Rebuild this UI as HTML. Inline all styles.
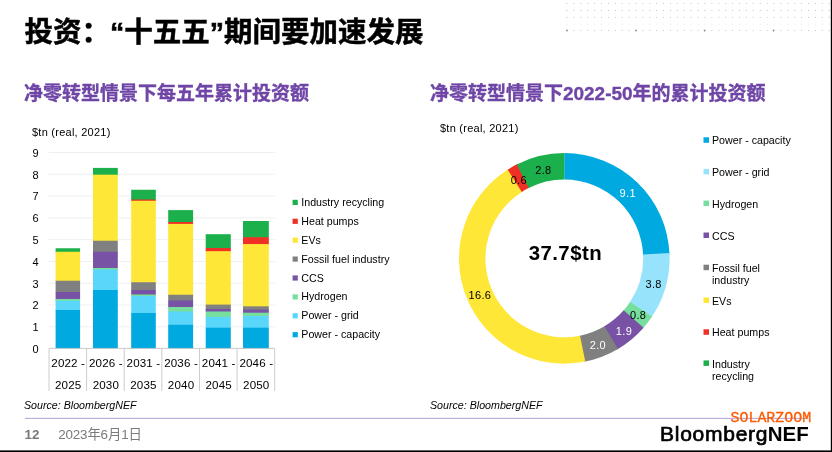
<!DOCTYPE html>
<html lang="zh"><head><meta charset="utf-8"><title>投资</title>
<style>
html,body{margin:0;padding:0;background:#fff;}
body{width:832px;height:452px;overflow:hidden;position:relative;font-family:"Liberation Sans", "Noto Sans CJK SC", sans-serif;}
svg{position:absolute;left:0;top:0;}
text{font-family:"Liberation Sans", "Noto Sans CJK SC", sans-serif;}
.t{font-size:11px;fill:#000;letter-spacing:0.25px;}
.l{font-size:10.67px;fill:#000;}
.w{fill:#fff;}
</style></head><body>
<svg width="832" height="452" viewBox="0 0 832 452">

<text x="24.5" y="42" font-size="28" font-weight="700" fill="#000" stroke="#000" stroke-width="0.5" textLength="399" lengthAdjust="spacingAndGlyphs">投资：“十五五”期间要加速发展</text>
<text x="24.1" y="100.2" font-size="19" font-weight="700" fill="#6F46A6" stroke="#6F46A6" stroke-width="0.35">净零转型情景下每五年累计投资额</text>
<text x="429.9" y="100.2" font-size="19" font-weight="700" fill="#6F46A6" stroke="#6F46A6" stroke-width="0.35">净零转型情景下2022-50年的累计投资额</text>
<text class="t" x="32" y="136.1">$tn (real, 2021)</text>
<line x1="49.0" x2="274.7" y1="326.81" y2="326.81" stroke="#dedede" stroke-width="0.6" stroke-dasharray="2.2,0.6"/>
<line x1="49.0" x2="274.7" y1="305.02" y2="305.02" stroke="#dedede" stroke-width="0.6" stroke-dasharray="2.2,0.6"/>
<line x1="49.0" x2="274.7" y1="283.23" y2="283.23" stroke="#dedede" stroke-width="0.6" stroke-dasharray="2.2,0.6"/>
<line x1="49.0" x2="274.7" y1="261.44" y2="261.44" stroke="#dedede" stroke-width="0.6" stroke-dasharray="2.2,0.6"/>
<line x1="49.0" x2="274.7" y1="239.65" y2="239.65" stroke="#dedede" stroke-width="0.6" stroke-dasharray="2.2,0.6"/>
<line x1="49.0" x2="274.7" y1="217.86" y2="217.86" stroke="#dedede" stroke-width="0.6" stroke-dasharray="2.2,0.6"/>
<line x1="49.0" x2="274.7" y1="196.07" y2="196.07" stroke="#dedede" stroke-width="0.6" stroke-dasharray="2.2,0.6"/>
<line x1="49.0" x2="274.7" y1="174.28" y2="174.28" stroke="#dedede" stroke-width="0.6" stroke-dasharray="2.2,0.6"/>
<line x1="49.0" x2="274.7" y1="152.49" y2="152.49" stroke="#dedede" stroke-width="0.6" stroke-dasharray="2.2,0.6"/>
<text class="t" x="32.5" y="352.90">0</text>
<text class="t" x="32.5" y="331.11">1</text>
<text class="t" x="32.5" y="309.32">2</text>
<text class="t" x="32.5" y="287.53">3</text>
<text class="t" x="32.5" y="265.74">4</text>
<text class="t" x="32.5" y="243.95">5</text>
<text class="t" x="32.5" y="222.16">6</text>
<text class="t" x="32.5" y="200.37">7</text>
<text class="t" x="32.5" y="178.58">8</text>
<text class="t" x="32.5" y="156.79">9</text>
<rect x="55.60" y="248.25" width="24.50" height="4.10" fill="#1CB04C"/>
<rect x="55.60" y="251.75" width="24.50" height="29.60" fill="#FFE737"/>
<rect x="55.60" y="280.75" width="24.50" height="11.85" fill="#808080"/>
<rect x="55.60" y="292.00" width="24.50" height="7.60" fill="#7852A4"/>
<rect x="55.60" y="299.00" width="24.50" height="2.35" fill="#77DF9E"/>
<rect x="55.60" y="300.75" width="24.50" height="9.85" fill="#5BD6FB"/>
<rect x="55.60" y="310.00" width="24.50" height="38.40" fill="#00A9E0"/>
<rect x="93.00" y="167.90" width="24.80" height="7.40" fill="#1CB04C"/>
<rect x="93.00" y="174.70" width="24.80" height="66.65" fill="#FFE737"/>
<rect x="93.00" y="240.75" width="24.80" height="11.60" fill="#808080"/>
<rect x="93.00" y="251.75" width="24.80" height="16.85" fill="#7852A4"/>
<rect x="93.00" y="268.00" width="24.80" height="2.10" fill="#77DF9E"/>
<rect x="93.00" y="269.50" width="24.80" height="21.10" fill="#5BD6FB"/>
<rect x="93.00" y="290.00" width="24.80" height="58.40" fill="#00A9E0"/>
<rect x="131.20" y="189.75" width="24.60" height="10.35" fill="#1CB04C"/>
<rect x="131.20" y="199.50" width="24.60" height="1.85" fill="#EE3124"/>
<rect x="131.20" y="200.75" width="24.60" height="82.10" fill="#FFE737"/>
<rect x="131.20" y="282.25" width="24.60" height="8.35" fill="#808080"/>
<rect x="131.20" y="290.00" width="24.60" height="5.10" fill="#7852A4"/>
<rect x="131.20" y="294.50" width="24.60" height="2.10" fill="#77DF9E"/>
<rect x="131.20" y="296.00" width="24.60" height="17.60" fill="#5BD6FB"/>
<rect x="131.20" y="313.00" width="24.60" height="35.40" fill="#00A9E0"/>
<rect x="168.20" y="210.10" width="24.90" height="12.50" fill="#1CB04C"/>
<rect x="168.20" y="222.00" width="24.90" height="2.50" fill="#EE3124"/>
<rect x="168.20" y="223.90" width="24.90" height="71.45" fill="#FFE737"/>
<rect x="168.20" y="294.75" width="24.90" height="6.35" fill="#808080"/>
<rect x="168.20" y="300.50" width="24.90" height="7.10" fill="#7852A4"/>
<rect x="168.20" y="307.00" width="24.90" height="5.10" fill="#77DF9E"/>
<rect x="168.20" y="311.50" width="24.90" height="13.85" fill="#5BD6FB"/>
<rect x="168.20" y="324.75" width="24.90" height="23.65" fill="#00A9E0"/>
<rect x="205.70" y="234.20" width="25.10" height="14.40" fill="#1CB04C"/>
<rect x="205.70" y="248.00" width="25.10" height="3.80" fill="#EE3124"/>
<rect x="205.70" y="251.20" width="25.10" height="54.00" fill="#FFE737"/>
<rect x="205.70" y="304.60" width="25.10" height="5.00" fill="#808080"/>
<rect x="205.70" y="309.00" width="25.10" height="3.10" fill="#7852A4"/>
<rect x="205.70" y="311.50" width="25.10" height="6.00" fill="#77DF9E"/>
<rect x="205.70" y="316.90" width="25.10" height="11.40" fill="#5BD6FB"/>
<rect x="205.70" y="327.70" width="25.10" height="20.70" fill="#00A9E0"/>
<rect x="243.00" y="221.00" width="25.80" height="16.80" fill="#1CB04C"/>
<rect x="243.00" y="237.20" width="25.80" height="7.50" fill="#EE3124"/>
<rect x="243.00" y="244.10" width="25.80" height="62.80" fill="#FFE737"/>
<rect x="243.00" y="306.30" width="25.80" height="4.00" fill="#808080"/>
<rect x="243.00" y="309.70" width="25.80" height="3.60" fill="#7852A4"/>
<rect x="243.00" y="312.70" width="25.80" height="3.80" fill="#77DF9E"/>
<rect x="243.00" y="315.90" width="25.80" height="12.40" fill="#5BD6FB"/>
<rect x="243.00" y="327.70" width="25.80" height="20.70" fill="#00A9E0"/>
<line x1="49.0" x2="274.7" y1="348.4" y2="348.4" stroke="#bfbfbf" stroke-width="0.8"/>
<line x1="49.00" x2="49.00" y1="348.4" y2="391.0" stroke="#bfbfbf" stroke-width="0.8"/>
<line x1="86.62" x2="86.62" y1="348.4" y2="391.0" stroke="#bfbfbf" stroke-width="0.8"/>
<line x1="124.23" x2="124.23" y1="348.4" y2="391.0" stroke="#bfbfbf" stroke-width="0.8"/>
<line x1="161.85" x2="161.85" y1="348.4" y2="391.0" stroke="#bfbfbf" stroke-width="0.8"/>
<line x1="199.47" x2="199.47" y1="348.4" y2="391.0" stroke="#bfbfbf" stroke-width="0.8"/>
<line x1="237.08" x2="237.08" y1="348.4" y2="391.0" stroke="#bfbfbf" stroke-width="0.8"/>
<line x1="274.70" x2="274.70" y1="348.4" y2="391.0" stroke="#bfbfbf" stroke-width="0.8"/>
<text class="t" style="font-size:11.6px;letter-spacing:0.15px" text-anchor="middle" x="68.21" y="366.7">2022 -</text>
<text class="t" style="font-size:11.6px;letter-spacing:0.15px" text-anchor="middle" x="68.21" y="388.5">2025</text>
<text class="t" style="font-size:11.6px;letter-spacing:0.15px" text-anchor="middle" x="105.83" y="366.7">2026 -</text>
<text class="t" style="font-size:11.6px;letter-spacing:0.15px" text-anchor="middle" x="105.83" y="388.5">2030</text>
<text class="t" style="font-size:11.6px;letter-spacing:0.15px" text-anchor="middle" x="143.44" y="366.7">2031 -</text>
<text class="t" style="font-size:11.6px;letter-spacing:0.15px" text-anchor="middle" x="143.44" y="388.5">2035</text>
<text class="t" style="font-size:11.6px;letter-spacing:0.15px" text-anchor="middle" x="181.06" y="366.7">2036 -</text>
<text class="t" style="font-size:11.6px;letter-spacing:0.15px" text-anchor="middle" x="181.06" y="388.5">2040</text>
<text class="t" style="font-size:11.6px;letter-spacing:0.15px" text-anchor="middle" x="218.68" y="366.7">2041 -</text>
<text class="t" style="font-size:11.6px;letter-spacing:0.15px" text-anchor="middle" x="218.68" y="388.5">2045</text>
<text class="t" style="font-size:11.6px;letter-spacing:0.15px" text-anchor="middle" x="256.29" y="366.7">2046 -</text>
<text class="t" style="font-size:11.6px;letter-spacing:0.15px" text-anchor="middle" x="256.29" y="388.5">2050</text>
<rect x="292.6" y="199.80" width="5.2" height="5.2" fill="#1CB04C"/>
<text class="l" x="301.3" y="205.90">Industry recycling</text>
<rect x="292.6" y="218.70" width="5.2" height="5.2" fill="#EE3124"/>
<text class="l" x="301.3" y="224.80">Heat pumps</text>
<rect x="292.6" y="237.60" width="5.2" height="5.2" fill="#FFE737"/>
<text class="l" x="301.3" y="243.70">EVs</text>
<rect x="292.6" y="256.50" width="5.2" height="5.2" fill="#808080"/>
<text class="l" x="301.3" y="262.60">Fossil fuel industry</text>
<rect x="292.6" y="275.40" width="5.2" height="5.2" fill="#7852A4"/>
<text class="l" x="301.3" y="281.50">CCS</text>
<rect x="292.6" y="294.30" width="5.2" height="5.2" fill="#77DF9E"/>
<text class="l" x="301.3" y="300.40">Hydrogen</text>
<rect x="292.6" y="313.20" width="5.2" height="5.2" fill="#5BD6FB"/>
<text class="l" x="301.3" y="319.30">Power - grid</text>
<rect x="292.6" y="332.10" width="5.2" height="5.2" fill="#00A9E0"/>
<text class="l" x="301.3" y="338.20">Power - capacity</text>
<text x="24" y="408.5" font-size="10.67" font-style="italic" fill="#000">Source: BloombergNEF</text>
<text class="t" x="440" y="132">$tn (real, 2021)</text>
<path d="M564.30 153.10 A105.30 105.30 0 0 1 669.52 254.39 L643.14 255.39 A78.90 78.90 0 0 0 564.30 179.50 Z" fill="#00A9E0"/>
<path d="M669.47 253.12 A105.30 105.30 0 0 1 651.39 317.58 L629.56 302.75 A78.90 78.90 0 0 0 643.10 254.45 Z" fill="#98E3FC"/>
<path d="M652.10 316.54 A105.30 105.30 0 0 1 642.73 328.66 L623.07 311.05 A78.90 78.90 0 0 0 630.09 301.96 Z" fill="#77DF9E"/>
<path d="M643.57 327.72 A105.30 105.30 0 0 1 616.87 349.64 L603.69 326.76 A78.90 78.90 0 0 0 623.69 310.34 Z" fill="#7852A4"/>
<path d="M617.96 349.00 A105.30 105.30 0 0 1 584.03 361.83 L579.09 335.90 A78.90 78.90 0 0 0 604.51 326.29 Z" fill="#808080"/>
<path d="M585.27 361.59 A105.30 105.30 0 0 1 508.71 168.97 L522.65 191.39 A78.90 78.90 0 0 0 580.02 335.72 Z" fill="#FFE737"/>
<path d="M507.64 169.64 A105.30 105.30 0 0 1 517.94 163.85 L529.56 187.56 A78.90 78.90 0 0 0 521.85 191.90 Z" fill="#EE3124"/>
<path d="M516.81 164.42 A105.30 105.30 0 0 1 564.30 153.10 L564.30 179.50 A78.90 78.90 0 0 0 528.72 187.98 Z" fill="#1CB04C"/>
<text class="t w" style="letter-spacing:0.35px" text-anchor="middle" x="627.75" y="196.70">9.1</text>
<text class="t" style="letter-spacing:0.35px" text-anchor="middle" x="653.65" y="287.90">3.8</text>
<text class="t" style="letter-spacing:0.35px" text-anchor="middle" x="638.10" y="319.40">0.8</text>
<text class="t w" style="letter-spacing:0.35px" text-anchor="middle" x="623.95" y="334.80">1.9</text>
<text class="t w" style="letter-spacing:0.35px" text-anchor="middle" x="597.85" y="349.10">2.0</text>
<text class="t" style="letter-spacing:0.35px" text-anchor="middle" x="479.90" y="298.60">16.6</text>
<text class="t" style="letter-spacing:0.35px" text-anchor="middle" x="518.80" y="183.80">0.6</text>
<text class="t" style="letter-spacing:0.35px" text-anchor="middle" x="543.40" y="173.90">2.8</text>
<text x="565.4" y="259.8" text-anchor="middle" font-size="20.4" font-weight="700" letter-spacing="0.45" fill="#000">37.7$tn</text>
<rect x="703.5" y="137.30" width="5.5" height="5.5" fill="#00A9E0"/>
<text class="l" x="712" y="144.40">Power - capacity</text>
<rect x="703.5" y="168.90" width="5.5" height="5.5" fill="#98E3FC"/>
<text class="l" x="712" y="176.00">Power - grid</text>
<rect x="703.5" y="200.60" width="5.5" height="5.5" fill="#77DF9E"/>
<text class="l" x="712" y="207.70">Hydrogen</text>
<rect x="703.5" y="232.50" width="5.5" height="5.5" fill="#7852A4"/>
<text class="l" x="712" y="239.60">CCS</text>
<rect x="703.5" y="264.70" width="5.5" height="5.5" fill="#808080"/>
<text class="l" x="712" y="271.80">Fossil fuel</text>
<text class="l" x="712" y="283.90">industry</text>
<rect x="703.5" y="297.50" width="5.5" height="5.5" fill="#FFE737"/>
<text class="l" x="712" y="304.60">EVs</text>
<rect x="703.5" y="329.30" width="5.5" height="5.5" fill="#EE3124"/>
<text class="l" x="712" y="336.40">Heat pumps</text>
<rect x="703.5" y="360.40" width="5.5" height="5.5" fill="#1CB04C"/>
<text class="l" x="712" y="367.50">Industry</text>
<text class="l" x="712" y="379.60">recycling</text>
<text x="430" y="408.5" font-size="10.67" font-style="italic" fill="#000">Source: BloombergNEF</text>
<line x1="25" x2="808" y1="418.35" y2="418.35" stroke="#B3A0DB" stroke-width="1"/>
<text x="24.6" y="438.8" font-size="13.4" font-weight="700" fill="#7a7a7a">12</text>
<text x="58.2" y="438.8" font-size="13.4" letter-spacing="-0.15" fill="#7a7a7a">2023年6月1日</text>
<text x="730.6" y="421.9" style="font-family:'Liberation Mono',monospace;font-size:14px" fill="#FF5A00" stroke="#FF5A00" stroke-width="0.3" textLength="80.5" lengthAdjust="spacingAndGlyphs">SOLARZOOM</text>
<text x="660" y="441.1" font-size="21" fill="#000" stroke="#000" stroke-width="0.7" letter-spacing="0.74">Bloomberg</text>
<text x="767.8" y="441.1" font-size="20.5" font-weight="700" fill="#000">NEF</text>
<line x1="566.5" x2="830" y1="3.45" y2="3.45" stroke="#c4c4c4" stroke-width="1" stroke-dasharray="1,5.9"/>
<line x1="566.5" x2="830" y1="10.40" y2="10.40" stroke="#bcbcbc" stroke-width="1" stroke-dasharray="1,5.9"/>
<line x1="566.5" x2="830" y1="17.40" y2="17.40" stroke="#c4c4c4" stroke-width="1" stroke-dasharray="1,5.9"/>
<line x1="566.5" x2="830" y1="24.20" y2="24.20" stroke="#e4e4e4" stroke-width="1" stroke-dasharray="1,5.9"/>
<line x1="566.5" x2="830" y1="30.50" y2="30.50" stroke="#c8c8c8" stroke-width="1" stroke-dasharray="1,5.9"/>
<path d="M565.9 29.8 h2.2 l-1.1 2.2 z" fill="#888"/>
<path d="M634.9 29.8 h2.2 l-1.1 2.2 z" fill="#888"/>
<path d="M703.5 29.8 h2.2 l-1.1 2.2 z" fill="#888"/>
<path d="M772.4 29.8 h2.2 l-1.1 2.2 z" fill="#888"/>
<rect x="830.8" y="0" width="1.2" height="452" fill="#000"/>
<rect x="0" y="450.4" width="832" height="1.6" fill="#000"/>
</svg></body></html>
